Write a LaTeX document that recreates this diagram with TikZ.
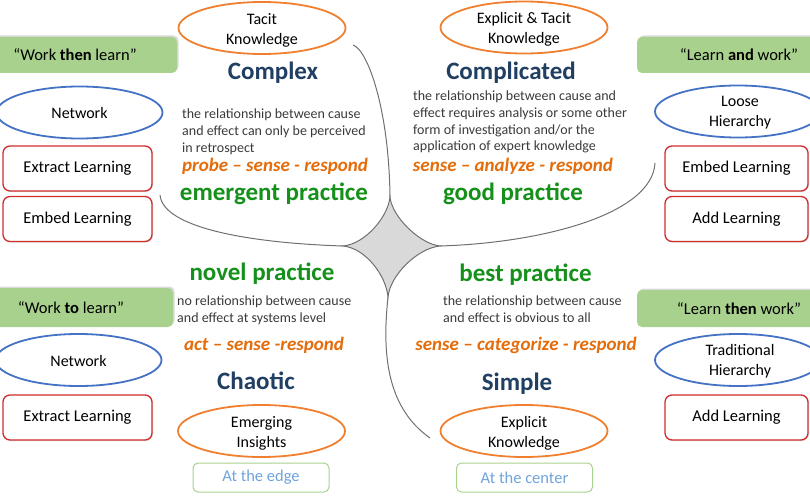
\documentclass[tikz,border=0pt]{standalone}
\usepackage{fontspec}
\setmainfont{Carlito}
\usetikzlibrary{shapes.geometric,shadows}
\definecolor{headblue}{HTML}{203F62}
\definecolor{orangetxt}{HTML}{E46C0A}
\definecolor{greentxt}{HTML}{15901A}
\definecolor{desctxt}{HTML}{3A3A3A}
\definecolor{ellorange}{HTML}{F0802F}
\definecolor{ellblue}{HTML}{4472C4}
\definecolor{boxred}{HTML}{D02C2C}
\definecolor{boxgreen}{HTML}{A9D18E}
\definecolor{edgegreen}{HTML}{A9D18E}
\definecolor{edgeblue}{HTML}{6FA3DA}
\definecolor{linegray}{HTML}{707070}
\definecolor{astrofill}{HTML}{D9D9D9}
\begin{document}
\begin{tikzpicture}[x=1pt,y=-1pt,
  ellorangestyle/.style={ellipse, draw=ellorange, line width=1.8pt, inner sep=0pt, minimum width=167pt, minimum height=52pt},
  ellbluestyle/.style={ellipse, draw=ellblue, line width=1.8pt, inner sep=0pt, minimum width=166pt, minimum height=52pt},
  elltext/.style={align=center, inner sep=0pt, text=black, font=\fontsize{16}{20}\selectfont},
  redbox/.style={rectangle, rounded corners=7pt, draw=boxred, line width=1.3pt, fill=white, minimum width=149pt, minimum height=45pt, inner sep=0pt, font=\fontsize{16.5}{20}\selectfont, drop shadow={opacity=0.25, shadow xshift=1pt, shadow yshift=-1pt}},
  greenbox/.style={rectangle, rounded corners=5pt, fill=boxgreen, minimum width=204pt, inner sep=0pt, font=\fontsize{16.5}{20}\selectfont, drop shadow={opacity=0.3, shadow xshift=1.5pt, shadow yshift=1.5pt}},
  edgebox/.style={rectangle, rounded corners=5pt, draw=edgegreen, line width=1pt, minimum width=136pt, minimum height=29pt, inner sep=0pt, text=edgeblue, font=\fontsize{16.5}{20}\selectfont},
  heading/.style={anchor=base, inner sep=0pt, text=headblue, font=\fontsize{25}{30}\selectfont\bfseries},
  practice/.style={anchor=base, inner sep=0pt, text=greentxt, font=\fontsize{25}{30}\selectfont\bfseries},
  method/.style={anchor=base, inner sep=0pt, text=orangetxt, font=\fontsize{19}{22}\selectfont\bfseries\itshape},
  desc/.style={anchor=north west, inner sep=0pt, align=left, text=desctxt, font=\fontsize{14}{16.6}\selectfont},
  divider/.style={draw=linegray, line width=1pt},
]
\useasboundingbox (0,0) rectangle (810,500);

% ---- Cynefin dividers and central disorder ----
\coordinate (cT) at (390,197);
\coordinate (cR) at (440,246);
\coordinate (cB) at (388,297);
\coordinate (cL) at (343,246);
\coordinate (topEnd) at (353,45);
\coordinate (botEnd) at (430,438);
\coordinate (leftEnd) at (160,195);
\coordinate (rightEnd) at (655,163);

\filldraw[fill=astrofill, draw=linegray, line width=1pt]
  (cT) .. controls (392,217) and (420,244) .. (cR)
       .. controls (418,248) and (390,275) .. (cB)
       .. controls (386,275) and (365,248) .. (cL)
       .. controls (365,244) and (388,217) .. (cT) -- cycle;
\draw[divider] (topEnd) .. controls (368,50) and (389,110) .. (cT);
\draw[divider] (cB) .. controls (383,345) and (383,405) .. (botEnd);
\draw[divider] (leftEnd) .. controls (163,228) and (250,243) .. (cL);
\draw[divider] (rightEnd) .. controls (652,215) and (540,243) .. (cR);

% ---- Complex (top left) ----
\node[ellorangestyle] (tacitE) at (262,28) {};
\node[elltext] (tacitT) at (262,30) {Tacit\\Knowledge};
\node[heading] (complexH) at (273,80) {Complex};
\node[desc] (complexD) at (182,109) {the relationship between cause\\and effect can only be perceived\\in retrospect};
\node[method] (complexM) at (275,171) {probe -- sense - respond};
\node[practice] (complexP) at (274,200) {emergent practice};

% ---- Complicated (top right) ----
\node[ellorangestyle] (eptE) at (524,27.5) {};
\node[elltext] (eptT) at (524,29.5) {Explicit \& Tacit\\Knowledge};
\node[heading] (complicatedH) at (511,80) {Complicated};
\node[desc] (complicatedD) at (413,91) {the relationship between cause and\\effect requires analysis or some other\\form of investigation and/or the\\application of expert knowledge};
\node[method] (complicatedM) at (513,171) {sense -- analyze - respond};
\node[practice] (complicatedP) at (513,200) {good practice};

% ---- Chaotic (bottom left) ----
\node[practice] (chaoticP) at (262,280) {novel practice};
\node[desc] (chaoticD) at (177,296) {no relationship between cause\\and effect at systems level};
\node[method] (chaoticM) at (264,350) {act -- sense -respond};
\node[heading] (chaoticH) at (256,389) {Chaotic};
\node[ellorangestyle] (emergE) at (261.5,431) {};
\node[elltext] (emergT) at (261.5,433) {Emerging\\Insights};
\node[edgebox] (edge) at (261,477.5) {At the edge};

% ---- Simple (bottom right) ----
\node[practice] (simpleP) at (525.5,281) {best practice};
\node[desc] (simpleD) at (443,296) {the relationship between cause\\and effect is obvious to all};
\node[method] (simpleM) at (526,350) {sense -- categorize - respond};
\node[heading] (simpleH) at (517,390) {Simple};
\node[ellorangestyle] (explE) at (524,431) {};
\node[elltext] (explT) at (524,433) {Explicit\\Knowledge};
\node[edgebox] (center) at (524.5,477.5) {At the center};

% ---- Left column ----
\node[greenbox, minimum height=36pt] (wtl) at (75,55) {``Work \textbf{then} learn''};
\node[ellbluestyle] (net1E) at (79.5,112.5) {};
\node[elltext] (net1T) at (79.5,113) {Network};
\node[redbox] (ext1) at (77.5,168.5) {Extract Learning};
\node[redbox] (emb1) at (77.5,219) {Embed Learning};

\node[greenbox, minimum height=39pt] (wtol) at (71,307.5) {``Work \textbf{to} learn''};
\node[ellbluestyle] (net2E) at (78.5,360) {};
\node[elltext] (net2T) at (78.5,360.5) {Network};
\node[redbox] (ext2) at (77.5,417.5) {Extract Learning};

% ---- Right column ----
\node[greenbox, minimum height=36pt] (law) at (739,55) {``Learn \textbf{and} work''};
\node[ellbluestyle] (looseE) at (738,111.5) {};
\node[elltext] (looseT) at (740,113) {Loose\\Hierarchy};
\node[redbox, minimum width=143pt] (emb2) at (736.5,168.5) {Embed Learning};
\node[redbox, minimum width=143pt] (add1) at (736.5,219) {Add Learning};

\node[greenbox, minimum height=37pt] (ltw) at (739,308.5) {``Learn \textbf{then} work''};
\node[ellbluestyle] (tradE) at (738,360) {};
\node[elltext] (tradT) at (740,361.5) {Traditional\\Hierarchy};
\node[redbox, minimum width=143pt] (add2) at (736.5,417.5) {Add Learning};
\end{tikzpicture}
\end{document}
